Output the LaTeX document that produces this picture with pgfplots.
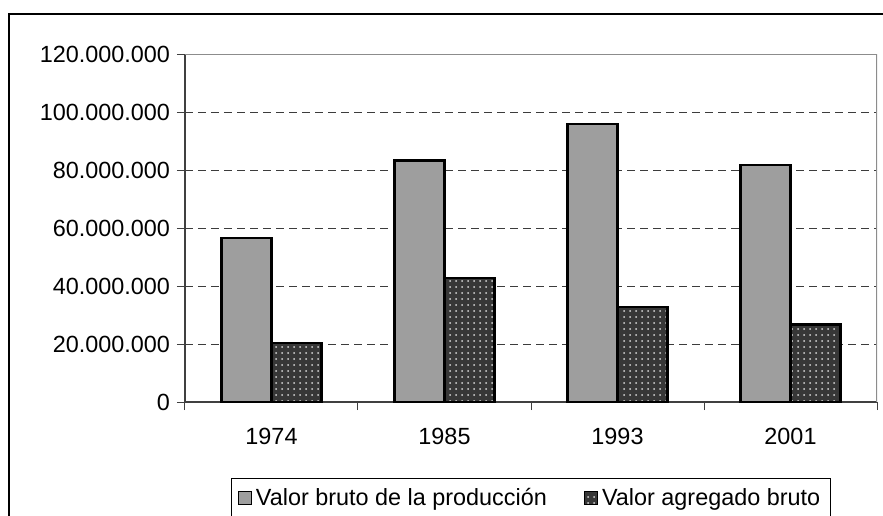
\documentclass[border=0pt]{standalone}
\usepackage{fontspec}
\setmainfont{Liberation Sans}
\usepackage{pgfplots}
\pgfplotsset{compat=1.18}
\usetikzlibrary{patterns}

\definecolor{vbp}{RGB}{158,158,158}
\definecolor{vab}{RGB}{55,55,55}
\definecolor{gridc}{RGB}{60,60,60}
\definecolor{borderc}{RGB}{140,140,140}

\begin{document}
\begin{tikzpicture}
  \useasboundingbox (0pt,0pt) rectangle (441.5pt,257.5pt);
  \clip (0pt,0pt) rectangle (441.5pt,257.5pt);
  % outer chart frame (only left and top edges are visible)
  \draw[line width=0.6pt] (4.5pt,-10pt) -- (4.5pt,250.5pt) -- (450pt,250.5pt);
  \begin{axis}[
      at={(92.5pt,56.5pt)}, anchor=south west,
      scale only axis, width=346pt, height=174pt,
      ybar=0pt, bar width=25pt,
      xmin=-0.5, xmax=3.5, ymin=0, ymax=120000000,
      xtick={-0.5,0.5,1.5,2.5,3.5},
      xticklabels={1974,1985,1993,2001},
      x tick label as interval,
      xticklabel style={yshift=-5.5pt},
      ytick={0,20000000,40000000,60000000,80000000,100000000,120000000},
      yticklabels={0,20.000.000,40.000.000,60.000.000,80.000.000,100.000.000,120.000.000},
      scaled y ticks=false,
      ymajorgrids,
      grid style={gridc, dash pattern=on 4pt off 2.5pt, line width=0.5pt},
      axis x line=bottom, axis y line=left,
      axis line style={-, black!75, line width=0.6pt},
      tick align=outside, major tick length=4pt,
      tick style={black!75, line width=0.5pt},
      tick label style={font=\fontsize{11.7}{14}\selectfont},
      legend style={at={(0.5,-0.2184)}, anchor=north, legend columns=-1,
        draw=black, line width=0.5pt, font=\fontsize{11.7}{14}\selectfont,
        inner sep=3pt, /tikz/every even column/.append style={column sep=16.5pt}},
      legend image code/.code={\draw[#1, line width=0.6pt] (0pt,-3pt) rectangle (6.5pt,3.5pt);},
    ]
    \addplot[draw=black, line width=1.1pt, fill=vbp]
      coordinates {(0,56500000) (1,83300000) (2,96000000) (3,81700000)};
    \addplot[draw=black, line width=1.1pt, fill=vab,
      postaction={pattern=dots, pattern color=white!85!black}]
      coordinates {(0,20300000) (1,42700000) (2,32700000) (3,26700000)};
    \legend{Valor bruto de la producción, Valor agregado bruto}
    \draw[borderc, line width=0.6pt] (rel axis cs:0,1) -- (rel axis cs:1,1) -- (rel axis cs:1,0);
  \end{axis}
\end{tikzpicture}
\end{document}
